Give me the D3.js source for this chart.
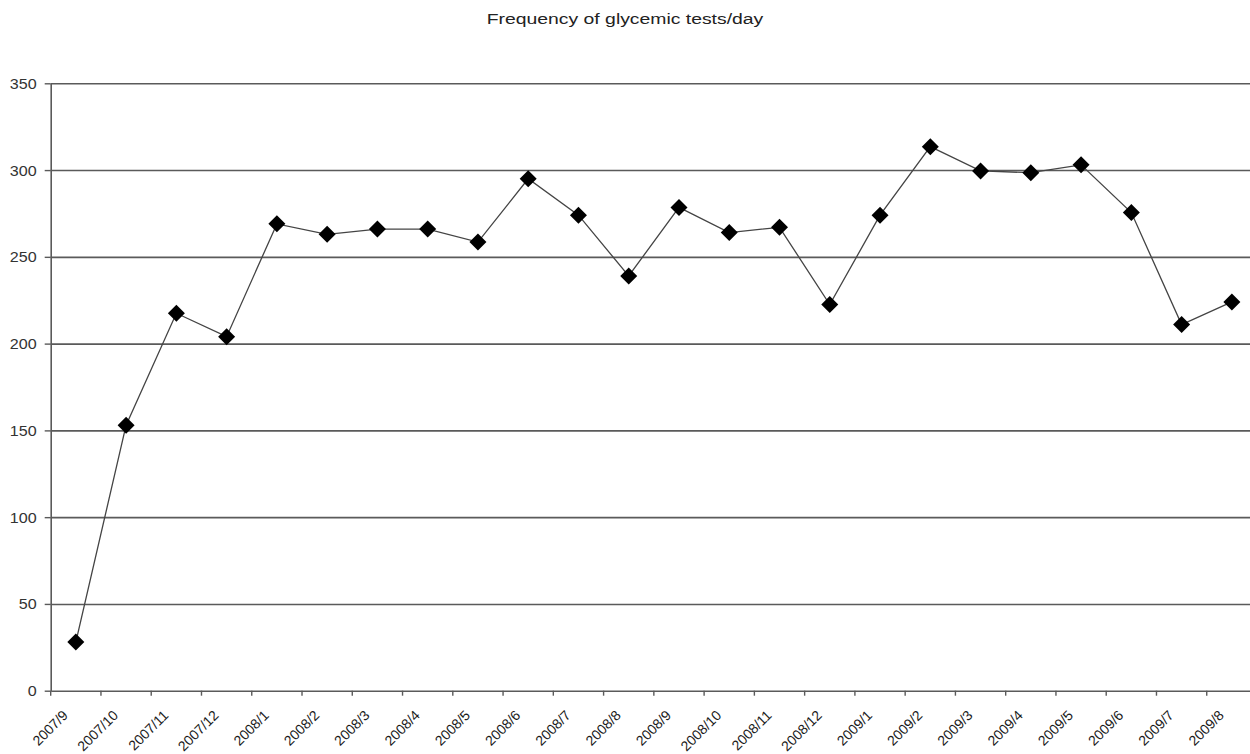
<!DOCTYPE html>
<html>
<head>
<meta charset="utf-8">
<script src="https://cdn.jsdelivr.net/npm/d3@7"></script>
<style>
  html, body { margin: 0; padding: 0; background: #fff; }
  svg { display: block; }
  svg text { font-family: "Liberation Sans", Arial, sans-serif; }
</style>
</head>
<body>
<svg id="chart" width="1250" height="754"></svg>
<script>
// Monthly frequency of glycemic tests per day
const months = ["2007/9","2007/10","2007/11","2007/12","2008/1","2008/2","2008/3","2008/4",
  "2008/5","2008/6","2008/7","2008/8","2008/9","2008/10","2008/11","2008/12",
  "2009/1","2009/2","2009/3","2009/4","2009/5","2009/6","2009/7","2009/8"];
const testsPerDay = [28, 153, 217.5, 204, 269, 263, 266, 266,
  258.5, 295, 274, 239, 278.5, 264, 267, 222.5,
  274, 313.5, 299.5, 298.5, 303, 275.5, 211, 224];
const yTicks = [0, 50, 100, 150, 200, 250, 300, 350];
const title = "Frequency of glycemic tests/day";

const svg = d3.select("#chart");
const plotLeft = 50.7, plotRight = 1257, plotTop = 83.3, plotBottom = 690.7;
const gridColor = "#5a5a5a";

const x = d3.scaleBand().domain(months).range([plotLeft, plotRight]).padding(0);
const y = d3.scaleLinear().domain([0, 350]).range([plotBottom, plotTop]);
const bw = x.bandwidth();

// Title
svg.append("text")
  .attr("transform", "translate(625,24) scale(1.25,1)")
  .attr("text-anchor", "middle")
  .attr("font-size", 15.5)
  .attr("fill", "#222")
  .text(title);

// Horizontal gridlines
svg.append("g")
  .attr("transform", `translate(${plotLeft},0)`)
  .call(d3.axisLeft(y).tickValues(yTicks.filter(v => v > 0)).tickSize(-(plotRight - plotLeft)).tickFormat(""))
  .call(g => g.select(".domain").remove())
  .call(g => g.selectAll(".tick line").attr("stroke", gridColor).attr("stroke-width", 1.6));

// Y axis
const yAxis = svg.append("g")
  .attr("transform", `translate(${plotLeft},0)`)
  .call(d3.axisLeft(y).tickValues(yTicks).tickSize(6).tickSizeOuter(0).tickPadding(8));
yAxis.select(".domain").attr("stroke", gridColor).attr("stroke-width", 1.6);
yAxis.selectAll(".tick line").attr("stroke", gridColor).attr("stroke-width", 1.4);
yAxis.selectAll(".tick text")
  .attr("font-size", 14)
  .attr("fill", "#333")
  .attr("x", 0).attr("dy", "0.36em")
  .attr("transform", "translate(-14,0) scale(1.15,1)");

// X axis (ticks on category boundaries)
const xAxis = svg.append("g")
  .attr("transform", `translate(0,${plotBottom})`)
  .call(d3.axisBottom(x).tickSize(5).tickSizeOuter(0));
xAxis.select(".domain").attr("stroke", gridColor).attr("stroke-width", 1.6);
xAxis.selectAll(".tick line")
  .attr("x1", -bw / 2).attr("x2", -bw / 2)
  .attr("stroke", gridColor).attr("stroke-width", 1.4);
xAxis.selectAll(".tick text")
  .attr("font-size", 14)
  .attr("fill", "#1a1a1a")
  .attr("text-anchor", "end")
  .attr("x", 0).attr("y", 0).attr("dy", 0)
  .attr("transform", "translate(-7,25.5) rotate(-45)");

// Series line
const cx = m => x(m) + bw / 2;
const pts = months.map((m, i) => [cx(m), y(testsPerDay[i])]);
svg.append("path")
  .datum(pts)
  .attr("d", d3.line())
  .attr("fill", "none")
  .attr("stroke", "#444")
  .attr("stroke-width", 1.3);

// Diamond markers
const s = 8.5;
svg.append("g").selectAll("path")
  .data(pts)
  .join("path")
  .attr("transform", d => `translate(${d[0]},${d[1]})`)
  .attr("d", `M0,${-s}L${s},0L0,${s}L${-s},0Z`)
  .attr("fill", "#000");
</script>
</body>
</html>
